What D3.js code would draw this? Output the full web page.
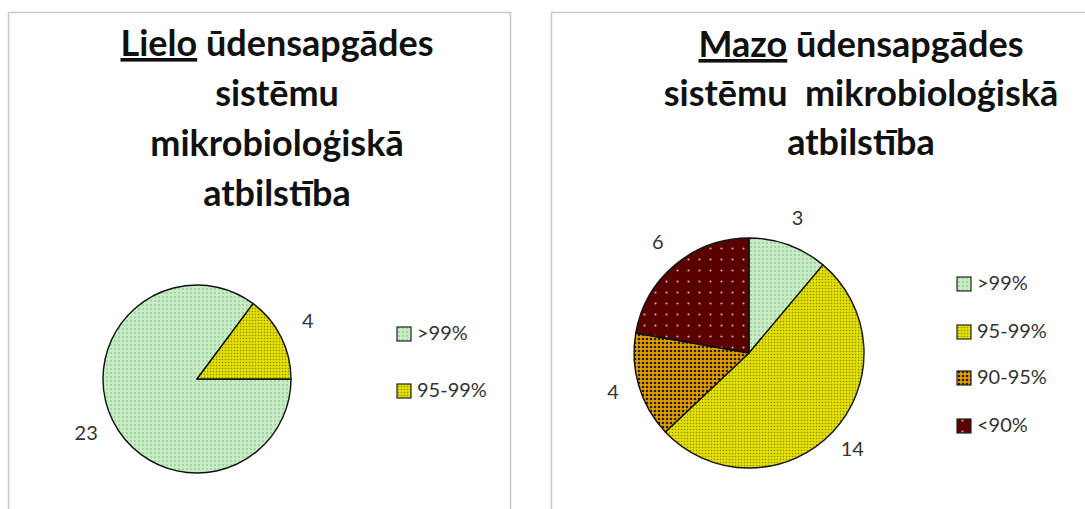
<!DOCTYPE html>
<html lang="lv">
<head>
<meta charset="UTF-8">
<title>Mikrobioloģiskā atbilstība</title>
<script src="https://cdn.jsdelivr.net/npm/d3@7"></script>
<style>
body{ margin:0; background:#fff; }
svg text{ font-family:Lato, "Open Sans", sans-serif; }
.title{ font-weight:bold; fill:#111; text-anchor:middle; white-space:pre; }
.lbl{ fill:#333; font-size:20px; text-anchor:middle; dominant-baseline:middle; }
.leg{ fill:#333; font-size:20px; dominant-baseline:middle; }
</style>
</head>
<body>
<script>
// data
var categories = [">99%", "95-99%", "90-95%", "<90%"];
var lieloValues = [23, 4];
var mazoValues = [3, 14, 4, 6];
var lieloTitle = [["Lielo", " ūdensapgādes"], ["sistēmu"], ["mikrobioloģiskā"], ["atbilstība"]];
var mazoTitle = [["Mazo", " ūdensapgādes"], ["sistēmu\u00a0 mikrobioloģiskā"], ["atbilstība"]];

var W = 1085, H = 509;
var svg = d3.select("body").append("svg").attr("width", W).attr("height", H);

// fill patterns
var defs = svg.append("defs");
function dotPattern(id, bg, dot, size, r){
	var p = defs.append("pattern").attr("id", id).attr("patternUnits", "userSpaceOnUse")
		.attr("width", size).attr("height", size);
	p.append("rect").attr("width", size).attr("height", size).attr("fill", bg);
	p.append("circle").attr("cx", size/2).attr("cy", size/2).attr("r", r).attr("fill", dot);
}
dotPattern("pGreen", "#c9ebc6", "#8ccf93", 4, 0.9);
dotPattern("pYellow", "#e2e000", "#8a8600", 3, 0.75);
dotPattern("pOrange", "#e0a000", "#2a1c00", 4, 1.3);
dotPattern("pMaroon", "#5b0000", "#d8a8a8", 11, 1.1);
var fills = ["url(#pGreen)", "url(#pYellow)", "url(#pOrange)", "url(#pMaroon)"];

// panel frames
svg.append("rect").attr("x", 8.5).attr("y", 12.5).attr("width", 502).attr("height", 520)
	.attr("fill", "none").attr("stroke", "#c8c8c8").attr("stroke-width", 1.5);
svg.append("rect").attr("x", 551.5).attr("y", 12.5).attr("width", 560).attr("height", 520)
	.attr("fill", "none").attr("stroke", "#c8c8c8").attr("stroke-width", 1.5);

function drawTitle(lines, cx, y0, step){
	var t = svg.append("text").attr("class", "title").attr("font-size", 36);
	lines.forEach(function(parts, i){
		var line = t.append("tspan").attr("x", cx).attr("y", y0 + i*step);
		parts.forEach(function(s, j){
			var sp = line.append("tspan").text(s);
			if(i == 0 && j == 0) sp.attr("text-decoration", "underline");
		});
	});
}
drawTitle(lieloTitle, 277, 56, 50);
drawTitle(mazoTitle, 861, 57, 49);

function drawPie(values, cx, cy, r, start, labelR){
	var pie = d3.pie().sort(null).startAngle(start).endAngle(start + 2*Math.PI);
	var arc = d3.arc().innerRadius(0).outerRadius(r);
	var lab = d3.arc().innerRadius(labelR).outerRadius(labelR);
	var g = svg.append("g").attr("transform", "translate(" + cx + "," + cy + ")");
	var arcs = pie(values);
	g.selectAll("path").data(arcs).enter().append("path")
		.attr("d", arc)
		.attr("fill", function(d, i){ return fills[i]; })
		.attr("stroke", "#111").attr("stroke-width", 1.4).attr("stroke-linejoin", "round");
	g.selectAll("text").data(arcs).enter().append("text").attr("class", "lbl")
		.attr("transform", function(d){ return "translate(" + lab.centroid(d) + ")"; })
		.text(function(d){ return d.data; });
}
drawPie(lieloValues, 197, 379, 94, Math.PI/2, 124);
drawPie(mazoValues, 749, 353, 115, 0, 142);

function drawLegend(n, x, ys){
	var g = svg.append("g");
	var items = g.selectAll("g").data(categories.slice(0, n)).enter().append("g")
		.attr("transform", function(d, i){ return "translate(" + x + "," + ys[i] + ")"; });
	items.append("rect").attr("x", 0).attr("y", -7).attr("width", 14).attr("height", 14)
		.attr("fill", function(d, i){ return fills[i]; })
		.attr("stroke", "#222").attr("stroke-width", 1.2);
	items.append("text").attr("class", "leg").attr("x", 20).attr("y", 1).text(function(d){ return d; });
}
drawLegend(2, 397, [334, 391]);
drawLegend(4, 957, [284, 332, 378, 426]);
</script>
</body>
</html>
